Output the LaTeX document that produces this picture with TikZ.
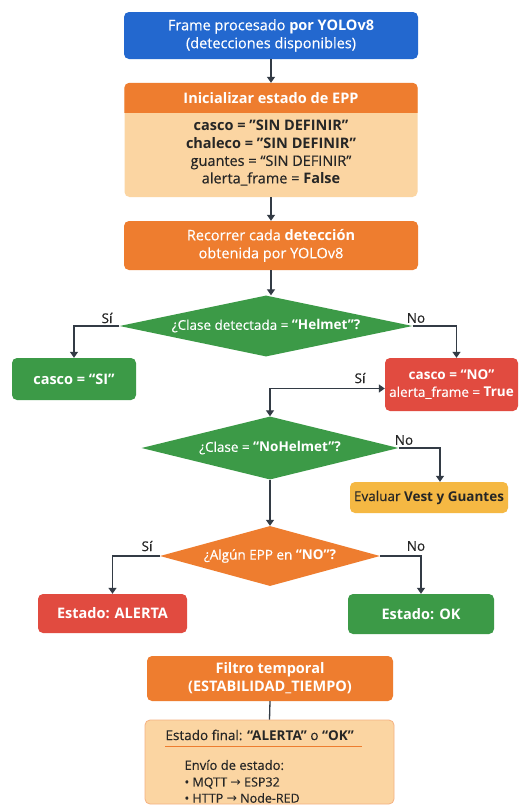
\documentclass[tikz,border=0pt]{standalone}
\usepackage{fontspec}
\setmainfont{Open Sans}[UprightFeatures={FakeBold=0.35}]
\newfontfamily\djv{DejaVu Sans}
\usetikzlibrary{shapes.geometric,arrows.meta}
\definecolor{cblue}{HTML}{2368CF}
\definecolor{corange}{HTML}{EE7D2F}
\definecolor{clight}{HTML}{FBD5A2}
\definecolor{cgreen}{HTML}{3C9A47}
\definecolor{cred}{HTML}{E14B40}
\definecolor{cyellow}{HTML}{F5B843}
\definecolor{cline}{HTML}{333B45}
\definecolor{ctext}{HTML}{262626}
\newcommand{\sq}{\symbol{34}}
\newcommand{\fszbig}{\fontsize{14.5}{18}\selectfont}
\newcommand{\fszmed}{\fontsize{13.5}{17}\selectfont}
\begin{document}
\begin{tikzpicture}[x=1pt,y=-1pt,
  every node/.style={font=\fszbig},
  box/.style={rounded corners=5pt, align=center, inner sep=0pt, text=white},
  dia/.style={diamond, inner sep=0pt, align=center, text=white, font=\fszmed},
  arr/.style={draw=cline, line width=1.3pt, -{Triangle[width=8pt,length=6pt]}},
  arrb/.style={draw=cline, line width=1.3pt, {Triangle[width=8pt,length=6pt]}-{Triangle[width=8pt,length=6pt]}},
  lab/.style={text=ctext, font=\fontsize{13.5}{16}\selectfont},
  body/.style={text=ctext, align=center}
]
\useasboundingbox (0,0) rectangle (520,806);
\fill[white] (0,0) rectangle (520,806);

% top box
\node[box, fill=cblue, minimum width=294pt, minimum height=47pt] (b1) at (271,35.5)
  {Frame procesado \textbf{por YOLOv8}\\(detecciones disponibles)};

% init box
\node[box, fill=clight, minimum width=293pt, minimum height=114pt] (b2) at (271,140) {};
\fill[corange] ([yshift=-30pt]b2.north west) [rounded corners=5pt] -- (b2.north west) -- (b2.north east) [sharp corners] -- ([yshift=-30pt]b2.north east) -- cycle;
\node[text=white, font=\fszbig\bfseries] (b2h) at (271,98) {Inicializar estado de EPP};
\node[body, font=\fontsize{14.5}{17.5}\selectfont] (b2b) at (271,153)
  {\textbf{casco = \sq SIN DEFINIR\sq}\\\textbf{chaleco = \sq SIN DEFINIR\sq}\\guantes = “SIN DEFINIR”\\alerta\_frame = \textbf{False}};

% loop box
\node[box, fill=corange, minimum width=294pt, minimum height=49pt] (b3) at (271,245.5)
  {Recorrer cada \textbf{detección}\\obtenida por YOLOv8};

% diamond 1
\node[dia, fill=cgreen, aspect=4.8, minimum width=293pt, minimum height=61pt] (d1) at (266,326)
  {¿Clase detectada = \textbf{“Helmet”?}};

\node[box, fill=cgreen, minimum width=124pt, minimum height=42pt] (b4) at (74,379) {\textbf{casco = “SI”}};
\node[box, fill=cred, minimum width=133pt, minimum height=53pt, font=\fszmed] (rd) at (451.5,384.5)
  {\textbf{casco = “NO”}\\alerta\_frame = \textbf{True}};

% diamond 2
\node[dia, fill=cgreen, aspect=4.2, minimum width=257pt, minimum height=63pt] (d2) at (270,448)
  {¿Clase = \textbf{“NoHelmet”?}};
\node[box, fill=cyellow, text=ctext, minimum width=158pt, minimum height=31pt, font=\fszmed] (ev) at (429,497.5)
  {Evaluar \textbf{Vest y Guantes}};

% diamond 3
\node[dia, fill=corange, aspect=3.8, minimum width=220pt, minimum height=60pt] (d3) at (270,556)
  {¿Algún EPP en \textbf{“NO”?}};
\node[box, fill=cred, minimum width=149pt, minimum height=39pt] (al) at (112.5,613.5) {\textbf{Estado: ALERTA}};
\node[box, fill=cgreen, minimum width=146pt, minimum height=40pt] (ok) at (421,614) {\textbf{Estado: OK}};

% filter
\node[box, fill=corange, minimum width=246pt, minimum height=45pt] (fi) at (270,678.5)
  {\textbf{Filtro temporal}\\\textbf{(ESTABILIDAD\_TIEMPO)}};
\node[box, fill=clight, draw=corange!60, line width=0.8pt, minimum width=249pt, minimum height=84pt] (fn) at (269.5,762) {};
\node[text=ctext, anchor=west, font=\fontsize{13.5}{17}\selectfont] (ft) at (162,735)
  {Estado final: \textbf{“ALERTA”} o \textbf{“OK”}};
\draw[corange, line width=1pt] (165,746) -- (362,746);
\node[text=ctext, anchor=west, font=\fontsize{13}{15}\selectfont] (e1) at (181,765) {Envío de estado:};
\node[text=ctext, anchor=west, font=\fontsize{12.5}{15}\selectfont] (e2) at (181,783) {• MQTT {\djv →} ESP32};
\node[text=ctext, anchor=west, font=\fontsize{12.5}{15}\selectfont] (e3) at (181,798) {• HTTP {\djv →} Node-RED};

% connectors
\draw[arr] (b1.south) -- (b2.north);
\draw[arr] (b2.south) -- (b3.north);
\draw[arr] (b3.south) -- (b3.south |- d1.north);
\draw[arr] (d1.west) -| (b4.north);
\node[lab] (l1) at (107,318) {Sí};
\draw[arr] (d1.east) -| ([xshift=5pt]rd.north);
\node[lab] (l2) at (416,318) {No};
\draw[arrb] (d2.north) |- ([yshift=-4pt]rd.west);
\node[lab] (l3) at (360,378) {Sí};
\draw[arr] (d2.east) -| ([xshift=11pt]ev.north);
\node[lab] (l4) at (404,440) {No};
\draw[arr] (d2.south) -- (d3.north);
\draw[arr] (d3.west) -| (al.north);
\node[lab] (l5) at (147,546) {Sí};
\draw[arr] (d3.east) -| (ok.north);
\node[lab] (l6) at (416,546) {No};
\draw[draw=cline, line width=1.3pt] (fi.south) -- (fn.north);
\end{tikzpicture}
\end{document}
